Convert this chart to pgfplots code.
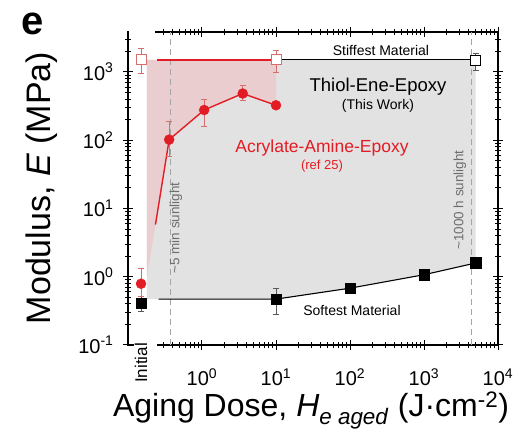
\documentclass[border=0pt]{standalone}
\usepackage{pgfplots}
\pgfplotsset{compat=1.18}
\usepackage{fontspec}
\setmainfont{Liberation Sans}
\definecolor{mred}{RGB}{226,28,36}
\definecolor{ered}{RGB}{215,110,110}
\definecolor{grayfill}{RGB}{226,226,226}
\definecolor{pinkfill}{RGB}{234,205,207}
\definecolor{dashgray}{RGB}{165,165,165}
\definecolor{txtgray}{RGB}{110,110,110}
\newcommand{\fs}[1]{\fontsize{#1}{#1}\selectfont}
\begin{document}
\begin{tikzpicture}
\useasboundingbox (-128pt,-85pt) rectangle (388pt,345pt);
\begin{axis}[
  at={(0,0)}, anchor=south west,
  scale only axis, width=370pt, height=313pt,
  xmode=log, ymode=log,
  xmin=0.1, xmax=10000, ymin=0.1, ymax=3850,
  clip=false,
  axis line style={line width=1.3pt},
  tick style={line width=1pt, black},
  major tick length=10pt, minor tick length=6pt,
  tick align=center,
  xtick={1,10,100,1000,10000},
  xticklabels={10\textsuperscript{0},10\textsuperscript{1},10\textsuperscript{2},10\textsuperscript{3},10\textsuperscript{4}},
  minor xtick={0.3,0.4,0.5,0.6,0.7,0.8,0.9,2,3,4,5,6,7,8,9,20,30,40,50,60,70,80,90,200,300,400,500,600,700,800,900,2000,3000,4000,5000,6000,7000,8000,9000},
  ytick={0.1,1,10,100,1000},
  yticklabels={10\textsuperscript{-1},10\textsuperscript{0},10\textsuperscript{1},10\textsuperscript{2},10\textsuperscript{3}},
  minor ytick={0.2,0.3,0.4,0.5,0.6,0.7,0.8,0.9,2,3,4,5,6,7,8,9,20,30,40,50,60,70,80,90,200,300,400,500,600,700,800,900,2000,3000},
  ticklabel style={font=\fs{20}},
  xticklabel style={yshift=-15pt},
  yticklabel style={xshift=-6pt},
]
% shaded regions
\addplot[fill=grayfill, draw=none] coordinates {(0.18,1500) (5000,1500) (5000,1.59) (1000,1.07) (100,0.68) (10,0.47) (0.18,0.47)} -- cycle;
\addplot[fill=pinkfill, draw=none] coordinates {(0.18,1500) (10,1500) (10,325) (3.55,483) (1.07,277) (0.36,102) (0.235,5.8) (0.18,1.0)} -- cycle;
% dashed sunlight markers
\addplot[dashgray, line width=1pt, dash pattern=on 6pt off 4pt] coordinates {(0.38,0.1) (0.38,3850)};
\addplot[dashgray, line width=1pt, dash pattern=on 6pt off 4pt] coordinates {(4400,0.1) (4400,3850)};
% stiffest lines
\addplot[mred, line width=1.4pt] coordinates {(0.245,1500) (10,1500)};
\addplot[black, line width=1.1pt] coordinates {(10,1500) (5000,1500)};
% softest line
\addplot[black, line width=1.1pt] coordinates {(0.26,0.47) (10,0.47) (100,0.68) (1000,1.07) (5000,1.59)};
% acrylate curve
\addplot[mred, line width=1.4pt] coordinates {(0.235,5.8) (0.36,102) (1.07,277) (3.55,483) (10,325)};
% softest markers
\addplot[only marks, mark=square*, mark size=5.3pt, black,
  error bars/.cd, y dir=both, y explicit,
  error bar style={line width=0.6pt, gray!70!black},
  error mark options={rotate=90, mark size=3pt, line width=0.6pt, gray!70!black}]
  coordinates {(0.15,0.41) +- (0,0.1) (10,0.47) += (0,0.21) -= (0,0.19) (100,0.68) (1000,1.07) (5000,1.59)};
% acrylate markers
\addplot[only marks, mark=*, mark size=5pt, mred,
  error bars/.cd, y dir=both, y explicit,
  error bar style={line width=0.6pt, ered},
  error mark options={rotate=90, mark size=3pt, line width=0.6pt, ered}]
  coordinates {(0.15,0.79) += (0,0.55) -= (0,0.275) (0.36,102) += (0,88) -= (0,43) (1.07,277) += (0,123) -= (0,118) (3.55,483) += (0,150) -= (0,100) (10,325)};
% stiffest markers
\addplot[only marks, mark=square*, mark size=5pt, mark options={draw=ered, fill=white, line width=0.8pt},
  error bars/.cd, y dir=both, y explicit,
  error bar style={line width=0.6pt, ered},
  error mark options={rotate=90, mark size=3pt, line width=0.6pt, ered}]
  coordinates {(0.15,1530) += (0,690) -= (0,570) (10,1530) += (0,570) -= (0,530)};
\addplot[only marks, mark=square*, mark size=5pt, mark options={draw=black, fill=white, line width=0.8pt},
  error bars/.cd, y dir=both, y explicit,
  error bar style={line width=0.6pt, gray!70!black},
  error mark options={rotate=90, mark size=3pt, line width=0.6pt, gray!70!black}]
  coordinates {(5000,1500) += (0,400) -= (0,430)};
\end{axis}
% axis break
\draw[white, line width=3pt] (5.5pt,0) -- (29pt,0);
\draw[white, line width=3pt] (0.8pt,313pt) -- (27pt,313pt);
% texts
\node[font=\fs{40}\bfseries] at (-95pt,321pt) {e};
\node[font=\fs{34}, rotate=90] at (-86pt,157pt) {Modulus, \textit{E} (MPa)};
\node[font=\fs{32}, anchor=base] at (183pt,-72pt) {Aging Dose, \textit{H}\textsubscript{\textit{e aged}} (J·cm\textsuperscript{-2})};
\node[font=\fs{17}, rotate=90] at (13pt,-18pt) {Initial};
\node[font=\fs{14}] at (253pt,294pt) {Stiffest Material};
\node[font=\fs{18.5}] at (250pt,258pt) {Thiol-Ene-Epoxy};
\node[font=\fs{14}] at (250pt,239pt) {(This Work)};
\node[font=\fs{17.5}, text=mred] at (194pt,197pt) {Acrylate-Amine-Epoxy};
\node[font=\fs{13}, text=mred] at (194pt,179pt) {(ref 25)};
\node[font=\fs{14}] at (224pt,35pt) {Softest Material};
\node[font=\fs{13.5}, text=txtgray, rotate=90] at (48pt,117pt) {\textasciitilde5 min sunlight};
\node[font=\fs{13.5}, text=txtgray, rotate=90] at (332pt,145pt) {\textasciitilde1000 h sunlight};
\end{tikzpicture}
\end{document}
